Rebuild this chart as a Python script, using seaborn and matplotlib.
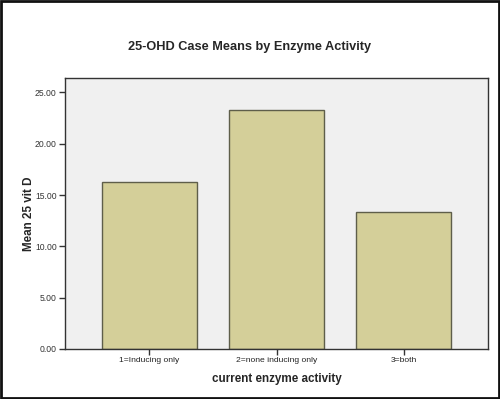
import matplotlib
matplotlib.use("Agg")
import matplotlib.pyplot as plt
import seaborn as sns
import pandas as pd
from matplotlib.patches import Rectangle

categories = ["1=Inducing only", "2=none inducing only", "3=both"]
means = [16.30, 23.25, 13.38]
yticks = [0.0, 5.0, 10.0, 15.0, 20.0, 25.0]

sns.set_style("white")
plt.rcParams['font.family'] = ['Liberation Sans', 'DejaVu Sans']

df = pd.DataFrame({"cat": categories, "mean": means})

fig = plt.figure(figsize=(5.0, 3.99), dpi=100)
ax = fig.add_axes([65/500, 1-349/399, (488-65)/500, (349-78)/399])
sns.barplot(data=df, x="cat", y="mean", ax=ax, color="#d4cf99",
            saturation=1, width=0.748, edgecolor="#5e5e4a", linewidth=1.0)
ax.set_facecolor("#f0f0f0")
ax.set_xlim(-0.665, 2.665)
ax.set_ylim(0, 26.4)
ax.set_yticks(yticks)
ax.set_yticklabels([f"{v:.2f}" for v in yticks], fontsize=6.2, color="#333333")
ax.set_xticks(range(len(categories)))
ax.set_xticklabels(categories, fontsize=6.1, color="#222222")
ax.tick_params(axis="both", direction="out", length=4, width=1, color="#333333", pad=2,
               bottom=True, left=True)
for s in ax.spines.values():
    s.set_color("#333333")
    s.set_linewidth(1)
ax.set_xlabel("current enzyme activity", fontsize=8.4, fontweight="bold", labelpad=6)
ax.set_ylabel("Mean 25 vit D", fontsize=8.4, fontweight="bold", labelpad=0)
fig.text(0.5, 1-47/399, "25-OHD Case Means by Enzyme Activity", ha="center", va="center",
         fontsize=9.2, fontweight="bold")
fig.patches.append(Rectangle((0.002, 0.003), 0.995, 0.994, transform=fig.transFigure,
                             fill=False, edgecolor="#111111", linewidth=2))
fig.savefig("out.png", dpi=100)
